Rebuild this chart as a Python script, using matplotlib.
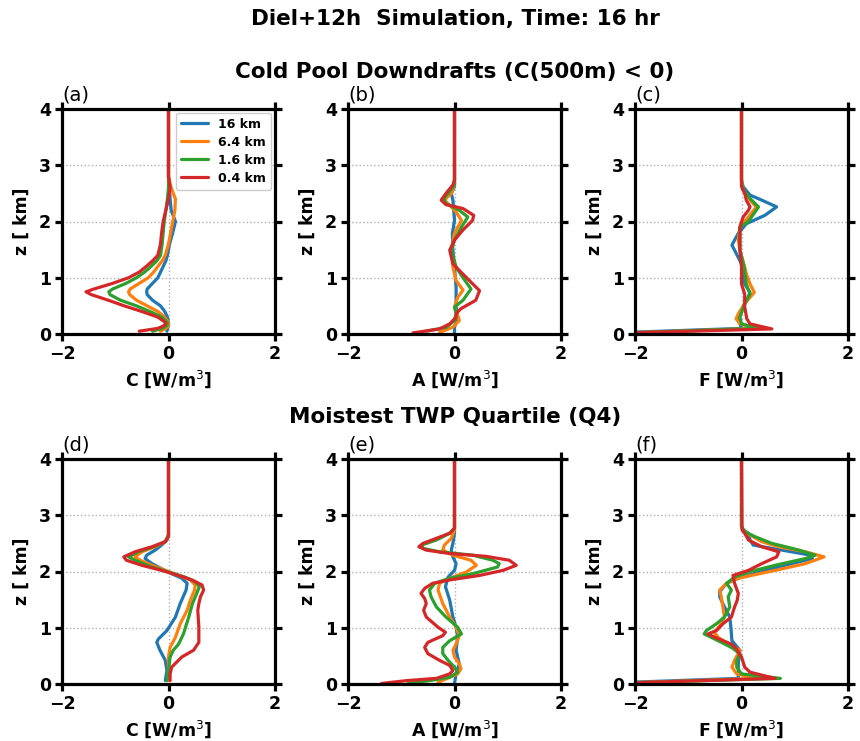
import matplotlib
matplotlib.use("Agg")
import matplotlib.pyplot as plt

labels = ["16 km", "6.4 km", "1.6 km", "0.4 km"]
colors = ["#1f77b4", "#ff7f0e", "#2ca02c", "#d62728"]

# (z [km], value [W/m^3]) pairs
# Panel (a): C, cold pool downdrafts
a16 = [(0.05,-0.03),(0.1,-0.02),(0.15,0.0),(0.2,0.0),(0.3,-0.02),(0.4,-0.07),(0.5,-0.15),(0.6,-0.3),(0.7,-0.4),(0.75,-0.41),(0.8,-0.4),(0.9,-0.3),(1.0,-0.2),(1.1,-0.15),(1.2,-0.1),(1.3,-0.05),(1.4,-0.02),(1.6,0.02),(1.8,0.08),(2.0,0.13),(2.2,0.05),(2.4,0.03),(2.6,0.02),(2.8,0.0),(4.0,0.0)]
a64 = [(0.05,-0.15),(0.1,-0.05),(0.15,0.0),(0.2,0.0),(0.3,-0.07),(0.4,-0.2),(0.5,-0.4),(0.6,-0.6),(0.7,-0.73),(0.75,-0.75),(0.8,-0.72),(0.9,-0.55),(1.0,-0.38),(1.1,-0.28),(1.2,-0.2),(1.3,-0.12),(1.4,-0.06),(1.6,0.0),(1.8,0.04),(2.0,0.08),(2.2,0.12),(2.4,0.13),(2.6,0.05),(2.8,0.0),(4.0,0.0)]
a16k = [(0.05,-0.3),(0.1,-0.12),(0.15,-0.03),(0.2,-0.02),(0.3,-0.12),(0.4,-0.35),(0.5,-0.6),(0.6,-0.9),(0.7,-1.1),(0.75,-1.12),(0.8,-1.05),(0.9,-0.8),(1.0,-0.6),(1.1,-0.45),(1.2,-0.33),(1.3,-0.22),(1.4,-0.15),(1.6,-0.12),(1.8,-0.1),(2.0,-0.08),(2.2,-0.05),(2.4,-0.02),(2.6,0.0),(2.8,0.0),(4.0,0.0)]
a04 = [(0.05,-0.55),(0.1,-0.2),(0.15,-0.08),(0.2,-0.05),(0.3,-0.2),(0.4,-0.5),(0.5,-0.83),(0.6,-1.13),(0.7,-1.45),(0.75,-1.55),(0.8,-1.4),(0.9,-1.05),(1.0,-0.75),(1.1,-0.55),(1.2,-0.42),(1.3,-0.3),(1.4,-0.2),(1.6,-0.15),(1.8,-0.13),(2.0,-0.1),(2.2,-0.05),(2.4,0.0),(2.6,0.03),(2.8,0.0),(4.0,0.0)]

# Panel (b): A, cold pool downdrafts
b16 = [(0.0,0.0),(0.12,0.0),(0.3,0.06),(0.48,0.03),(0.83,0.03),(1.19,0.0),(1.49,-0.03),(1.79,-0.04),(2.02,0.0),(2.38,-0.03),(2.5,-0.06),(2.62,0.0),(4.0,0.0)]
b64 = [(0.03,-0.28),(0.12,-0.03),(0.24,0.09),(0.33,0.06),(0.48,0.0),(0.65,0.06),(0.78,0.16),(0.95,0.03),(1.19,-0.03),(1.49,-0.06),(1.79,0.0),(2.02,0.13),(2.17,0.03),(2.29,-0.09),(2.38,-0.19),(2.5,-0.06),(2.65,0.0),(4.0,0.0)]
b16k = [(0.05,-0.53),(0.12,-0.15),(0.24,0.0),(0.36,0.03),(0.48,0.0),(0.6,0.16),(0.8,0.31),(1.0,0.16),(1.19,0.03),(1.49,-0.06),(1.67,0.0),(1.9,0.13),(2.08,0.25),(2.2,0.09),(2.32,-0.16),(2.41,-0.2),(2.5,-0.12),(2.65,0.0),(4.0,0.0)]
b04 = [(0.02,-0.78),(0.09,-0.28),(0.18,-0.09),(0.3,0.03),(0.36,0.03),(0.45,0.12),(0.6,0.4),(0.77,0.47),(0.95,0.28),(1.13,0.09),(1.25,-0.03),(1.49,-0.09),(1.67,0.0),(1.85,0.16),(2.02,0.34),(2.11,0.36),(2.23,0.16),(2.3,-0.16),(2.38,-0.25),(2.5,-0.16),(2.65,-0.03),(2.74,0.0),(4.0,0.0)]

# Panel (c): F, cold pool downdrafts
c16 = [(0.03,-2.1),(0.1,0.0),(0.18,-0.03),(0.3,-0.06),(0.48,0.03),(0.6,0.1),(0.74,0.16),(0.89,0.06),(1.19,0.03),(1.49,-0.13),(1.58,-0.18),(1.79,-0.06),(1.96,0.09),(2.11,0.44),(2.26,0.66),(2.38,0.38),(2.47,0.16),(2.62,0.03),(2.74,0.0),(4.0,0.0)]
c64 = [(0.02,-2.1),(0.1,0.32),(0.18,-0.03),(0.27,-0.1),(0.36,-0.06),(0.54,0.06),(0.74,0.24),(0.89,0.16),(1.07,0.09),(1.19,0.06),(1.49,-0.03),(1.67,-0.06),(1.9,-0.03),(2.08,0.13),(2.26,0.28),(2.38,0.16),(2.56,0.03),(2.74,0.0),(4.0,0.0)]
c16k = [(0.02,-2.1),(0.1,0.32),(0.18,0.0),(0.3,-0.03),(0.54,0.06),(0.71,0.16),(0.89,0.09),(1.19,0.05),(1.49,-0.03),(1.9,-0.03),(2.0,0.13),(2.26,0.32),(2.38,0.19),(2.56,0.03),(2.7,0.0),(4.0,0.0)]
c04 = [(0.02,-2.1),(0.09,0.57),(0.18,0.16),(0.27,0.1),(0.48,0.06),(0.71,0.06),(0.89,0.0),(1.19,0.0),(1.49,-0.03),(1.9,-0.03),(2.08,0.03),(2.2,0.13),(2.26,0.16),(2.38,0.09),(2.5,0.06),(2.62,0.0),(4.0,0.0)]

# Panel (d): C, moistest quartile
d16 = [(0.06,-0.06),(0.24,-0.03),(0.42,-0.06),(0.6,-0.16),(0.74,-0.22),(0.8,-0.19),(0.95,-0.03),(1.19,0.13),(1.43,0.22),(1.67,0.33),(1.79,0.35),(1.88,0.25),(1.96,0.06),(2.05,-0.13),(2.14,-0.31),(2.23,-0.44),(2.29,-0.41),(2.38,-0.25),(2.47,-0.13),(2.56,-0.03),(2.65,0.0),(4.0,0.0)]
d64 = [(0.06,-0.01),(0.3,0.0),(0.48,0.0),(0.65,0.03),(0.83,0.13),(1.07,0.22),(1.31,0.35),(1.49,0.41),(1.67,0.49),(1.76,0.5),(1.85,0.41),(1.93,0.19),(2.02,-0.06),(2.11,-0.31),(2.2,-0.53),(2.26,-0.63),(2.35,-0.5),(2.44,-0.25),(2.53,-0.06),(2.65,0.0),(4.0,0.0)]
d16k = [(0.06,-0.03),(0.24,0.0),(0.48,0.03),(0.6,0.09),(0.71,0.19),(0.89,0.28),(1.19,0.38),(1.43,0.45),(1.61,0.53),(1.73,0.58),(1.82,0.5),(1.9,0.31),(1.99,0.0),(2.08,-0.31),(2.2,-0.63),(2.26,-0.75),(2.35,-0.57),(2.44,-0.28),(2.53,-0.06),(2.65,0.0),(4.0,0.0)]
d04 = [(0.06,0.03),(0.18,0.03),(0.3,0.06),(0.48,0.25),(0.6,0.47),(0.74,0.57),(1.01,0.57),(1.31,0.55),(1.43,0.57),(1.55,0.6),(1.67,0.66),(1.76,0.63),(1.85,0.44),(1.93,0.19),(2.02,-0.13),(2.11,-0.5),(2.2,-0.79),(2.26,-0.84),(2.35,-0.63),(2.44,-0.31),(2.53,-0.06),(2.62,0.0),(4.0,0.0)]

# Panel (e): A, moistest quartile
e16 = [(0.01,0.0),(0.18,0.03),(0.36,0.09),(0.6,0.03),(0.83,0.06),(1.01,0.03),(1.19,-0.03),(1.49,-0.09),(1.73,-0.17),(1.9,-0.12),(2.02,0.0),(2.14,0.03),(2.26,-0.03),(2.38,-0.06),(2.5,-0.03),(2.68,0.0),(4.0,0.0)]
e64 = [(0.03,-0.31),(0.09,-0.16),(0.18,0.06),(0.27,0.12),(0.36,0.09),(0.48,0.0),(0.6,-0.03),(0.71,0.03),(0.86,0.09),(1.01,0.03),(1.19,-0.09),(1.43,-0.22),(1.67,-0.31),(1.79,-0.28),(1.88,-0.09),(1.99,0.22),(2.11,0.41),(2.2,0.31),(2.29,-0.03),(2.38,-0.22),(2.47,-0.19),(2.59,-0.06),(2.74,0.0),(4.0,0.0)]
e16k = [(0.01,-0.87),(0.06,-0.47),(0.12,-0.09),(0.21,0.06),(0.3,0.0),(0.42,-0.12),(0.54,-0.22),(0.65,-0.22),(0.77,-0.09),(0.89,0.13),(1.01,0.06),(1.19,-0.16),(1.37,-0.34),(1.55,-0.44),(1.67,-0.47),(1.79,-0.37),(1.88,-0.09),(1.96,0.34),(2.08,0.81),(2.14,0.84),(2.2,0.72),(2.29,0.34),(2.35,-0.28),(2.41,-0.59),(2.47,-0.62),(2.56,-0.34),(2.68,-0.09),(2.77,0.0),(4.0,0.0)]
e04 = [(0.01,-1.37),(0.06,-0.9),(0.1,-0.34),(0.18,-0.09),(0.24,-0.03),(0.33,-0.09),(0.42,-0.28),(0.54,-0.5),(0.65,-0.56),(0.74,-0.5),(0.86,-0.22),(0.92,-0.17),(1.01,-0.31),(1.19,-0.53),(1.31,-0.58),(1.43,-0.53),(1.52,-0.56),(1.61,-0.63),(1.7,-0.56),(1.79,-0.41),(1.85,-0.09),(1.93,0.47),(2.02,0.91),(2.11,1.16),(2.2,1.03),(2.27,0.59),(2.32,-0.09),(2.38,-0.53),(2.44,-0.67),(2.5,-0.59),(2.59,-0.34),(2.68,-0.09),(2.77,0.0),(4.0,0.0)]

# Panel (f): F, moistest quartile
f16 = [(0.03,-2.1),(0.1,-0.06),(0.24,-0.06),(0.36,-0.06),(0.6,-0.03),(0.77,-0.18),(1.01,-0.2),(1.19,-0.22),(1.37,-0.32),(1.55,-0.41),(1.64,-0.41),(1.79,-0.28),(1.88,-0.06),(2.0,0.38),(2.11,0.82),(2.23,1.33),(2.29,1.3),(2.38,0.76),(2.47,0.22),(2.56,0.16),(2.68,0.13),(2.74,0.03),(2.8,0.0),(4.0,0.0)]
f64 = [(0.02,-2.1),(0.1,0.32),(0.18,-0.09),(0.3,-0.18),(0.42,-0.13),(0.6,-0.03),(0.71,-0.25),(0.83,-0.44),(0.92,-0.51),(1.07,-0.38),(1.19,-0.32),(1.37,-0.35),(1.55,-0.38),(1.67,-0.41),(1.79,-0.28),(1.88,-0.06),(2.02,0.63),(2.14,1.2),(2.26,1.55),(2.35,1.2),(2.44,0.7),(2.53,0.38),(2.65,0.16),(2.74,0.03),(2.8,0.0),(4.0,0.0)]
f16k = [(0.02,-2.1),(0.1,0.73),(0.18,0.0),(0.3,-0.09),(0.42,-0.09),(0.54,-0.03),(0.65,-0.19),(0.77,-0.44),(0.89,-0.7),(0.95,-0.66),(1.07,-0.47),(1.19,-0.32),(1.37,-0.22),(1.55,-0.25),(1.67,-0.19),(1.79,-0.28),(1.9,-0.13),(1.99,0.13),(2.11,0.63),(2.23,1.2),(2.29,1.38),(2.38,1.08),(2.5,0.57),(2.62,0.25),(2.71,0.06),(2.8,0.0),(4.0,0.0)]
f04 = [(0.02,-2.1),(0.1,0.63),(0.21,0.16),(0.3,0.06),(0.48,0.0),(0.63,-0.1),(0.71,-0.19),(0.83,-0.5),(0.89,-0.63),(0.95,-0.47),(1.07,-0.35),(1.19,-0.19),(1.37,-0.13),(1.49,-0.08),(1.61,-0.06),(1.79,-0.13),(1.93,-0.16),(2.02,0.13),(2.14,0.38),(2.26,0.66),(2.35,0.7),(2.44,0.38),(2.56,0.13),(2.68,0.06),(2.74,0.01),(4.0,0.0)]

panel_letters = ["(a)", "(b)", "(c)", "(d)", "(e)", "(f)"]
xlabels = ["C [W/m$^3$]", "A [W/m$^3$]", "F [W/m$^3$]"] * 2
panels = [[a16, a64, a16k, a04], [b16, b64, b16k, b04], [c16, c64, c16k, c04],
          [d16, d64, d16k, d04], [e16, e64, e16k, e04], [f16, f64, f16k, f04]]

fig = plt.figure(figsize=(8.6, 7.41), dpi=100)
W, H = 860.0, 741.0
lefts = [62, 348, 635]
aw = 213
rows = [(109, 334), (459, 684)]

for i, series in enumerate(panels):
    r, c = divmod(i, 3)
    top, bot = rows[r]
    ax = fig.add_axes([lefts[c] / W, 1 - bot / H, aw / W, (bot - top) / H])
    for s, col, lab in zip(series, colors, labels):
        z = [p[0] for p in s]
        v = [p[1] for p in s]
        ax.plot(v, z, color=col, lw=2.3, label=lab, solid_capstyle='round')
    ax.set_xlim(-2, 2)
    ax.set_ylim(0, 4)
    ax.set_xticks([-2, 0, 2])
    ax.set_yticks([0, 1, 2, 3, 4])
    ax.grid(True, linestyle=':', color='#b0b0b0', lw=1.0)
    ax.set_axisbelow(True)
    for sp in ax.spines.values():
        sp.set_linewidth(2.3)
    ax.tick_params(direction='out', length=5, width=2.3, top=True, right=True,
                   labelsize=12.5, pad=3)
    for t in ax.get_xticklabels() + ax.get_yticklabels():
        t.set_fontweight('bold')
    ax.set_xlabel(xlabels[i], fontsize=12.5, fontweight='bold', labelpad=4)
    ax.set_ylabel("z [ km]", fontsize=12.5, fontweight='bold', labelpad=6)
    ax.text(0.0, 1.02, panel_letters[i], transform=ax.transAxes, fontsize=14,
            ha='left', va='bottom')
    if i == 0:
        leg = ax.legend(loc='upper right', prop={'weight': 'bold', 'size': 9},
                        handlelength=2.2, borderaxespad=0.3, labelspacing=0.4,
                        framealpha=1.0, fancybox=True)

xc = 455 / W
fig.text(xc, 1 - 19 / H, "Diel+12h  Simulation, Time: 16 hr", ha='center', va='center',
         fontsize=15.5, fontweight='bold')
fig.text(xc, 1 - 72 / H, "Cold Pool Downdrafts (C(500m) < 0)", ha='center', va='center',
         fontsize=15.5, fontweight='bold')
fig.text(xc, 1 - 417 / H, "Moistest TWP Quartile (Q4)", ha='center', va='center',
         fontsize=15.5, fontweight='bold')

fig.savefig("out.png", dpi=100)
